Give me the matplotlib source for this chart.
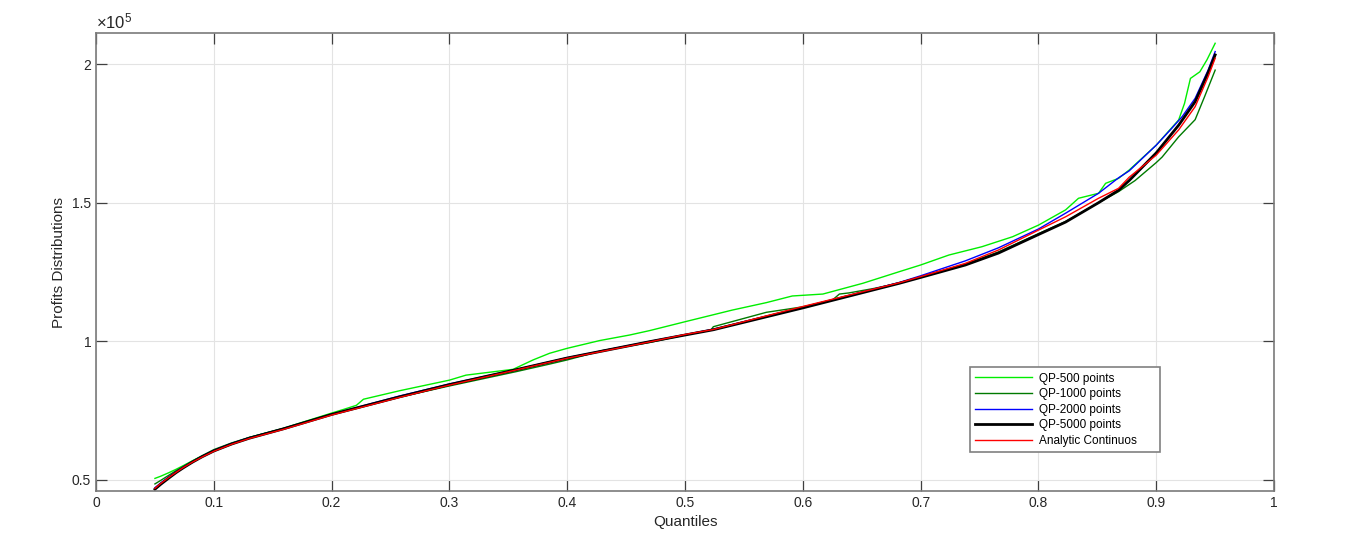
import numpy as np
import matplotlib.pyplot as plt
from matplotlib.ticker import FuncFormatter

plt.rcParams['font.family'] = ['Liberation Sans', 'DejaVu Sans']
plt.rcParams['mathtext.fontset'] = 'custom'
plt.rcParams['mathtext.rm'] = 'Liberation Sans'

# values, profits in units of 1e5
q_500 = [0.05, 0.055, 0.062, 0.068, 0.074, 0.082, 0.09, 0.1, 0.115, 0.13, 0.159, 0.2, 0.21,
         0.221, 0.227, 0.258, 0.3, 0.314, 0.354, 0.371, 0.385, 0.4, 0.4276, 0.453, 0.47,
         0.5, 0.54, 0.569, 0.591, 0.617, 0.651, 0.682, 0.7, 0.724, 0.752, 0.778, 0.8,
         0.823, 0.834, 0.851, 0.857, 0.868, 0.877, 0.9, 0.919, 0.924, 0.929, 0.937, 0.943,
         0.95]
v_500 = [0.504, 0.512, 0.525, 0.537, 0.55, 0.568, 0.585, 0.603, 0.627, 0.652, 0.685, 0.74,
         0.753, 0.768, 0.79, 0.821, 0.859, 0.877, 0.898, 0.932, 0.956, 0.974, 1.002, 1.022,
         1.038, 1.07, 1.112, 1.139, 1.163, 1.170, 1.209, 1.251, 1.275, 1.311, 1.341, 1.377,
         1.419, 1.474, 1.516, 1.534, 1.57, 1.588, 1.618, 1.708, 1.799, 1.859, 1.949, 1.973,
         2.016, 2.076]

q_1000 = [0.05, 0.055, 0.062, 0.068, 0.074, 0.082, 0.09, 0.1, 0.115, 0.13, 0.159, 0.2,
          0.258, 0.3, 0.357, 0.385, 0.4, 0.43, 0.47, 0.5, 0.522, 0.524, 0.569, 0.591, 0.6,
          0.625, 0.631, 0.639, 0.66, 0.682, 0.7, 0.738, 0.766, 0.8, 0.823, 0.851, 0.868,
          0.882, 0.9, 0.905, 0.919, 0.933, 0.941, 0.95]
v_1000 = [0.484, 0.497, 0.516, 0.532, 0.547, 0.567, 0.586, 0.608, 0.632, 0.652, 0.684,
          0.735, 0.798, 0.838, 0.89, 0.917, 0.932, 0.966, 0.995, 1.022, 1.04, 1.052, 1.104,
          1.118, 1.124, 1.148, 1.17, 1.174, 1.19, 1.21, 1.232, 1.278, 1.322, 1.388, 1.432,
          1.50, 1.54, 1.58, 1.645, 1.665, 1.738, 1.80, 1.883, 1.979]

q_2000 = [0.05, 0.055, 0.062, 0.068, 0.074, 0.082, 0.09, 0.1, 0.115, 0.13, 0.159, 0.2,
          0.258, 0.3, 0.357, 0.4, 0.47, 0.524, 0.6, 0.682, 0.7, 0.738, 0.766, 0.8, 0.823,
          0.851, 0.868, 0.877, 0.9, 0.913, 0.922, 0.933, 0.944, 0.95]
v_2000 = [0.47, 0.488, 0.51, 0.528, 0.545, 0.565, 0.584, 0.605, 0.63, 0.651, 0.684, 0.736,
          0.802, 0.845, 0.898, 0.94, 0.999, 1.043, 1.122, 1.212, 1.236, 1.29, 1.337, 1.405,
          1.462, 1.534, 1.59, 1.615, 1.708, 1.768, 1.811, 1.877, 1.979, 2.046]

q_5000 = [0.05, 0.055, 0.062, 0.068, 0.074, 0.082, 0.09, 0.1, 0.115, 0.13, 0.159, 0.2,
          0.258, 0.3, 0.357, 0.4, 0.47, 0.5, 0.524, 0.6, 0.682, 0.7, 0.738, 0.766, 0.8,
          0.823, 0.851, 0.868, 0.877, 0.9, 0.919, 0.933, 0.944, 0.95]
v_5000 = [0.465, 0.483, 0.506, 0.525, 0.542, 0.563, 0.582, 0.603, 0.628, 0.649, 0.683,
          0.735, 0.799, 0.843, 0.897, 0.939, 0.998, 1.022, 1.041, 1.12, 1.209, 1.230, 1.275,
          1.318, 1.385, 1.43, 1.50, 1.545, 1.58, 1.68, 1.78, 1.865, 1.97, 2.034]

q_an = [0.05, 0.055, 0.062, 0.068, 0.074, 0.082, 0.09, 0.1, 0.115, 0.13, 0.159, 0.2,
        0.258, 0.3, 0.357, 0.4, 0.47, 0.5, 0.524, 0.6, 0.682, 0.7, 0.738, 0.766, 0.8,
        0.823, 0.851, 0.868, 0.877, 0.9, 0.919, 0.933, 0.944, 0.95]
v_an = [0.468, 0.486, 0.508, 0.526, 0.543, 0.563, 0.581, 0.602, 0.627, 0.648, 0.681, 0.733,
        0.797, 0.841, 0.896, 0.938, 0.997, 1.024, 1.042, 1.125, 1.211, 1.233, 1.281, 1.329,
        1.401, 1.449, 1.516, 1.552, 1.592, 1.672, 1.763, 1.847, 1.955, 2.022]

SCALE = 1e5

fig = plt.figure(figsize=(13.66, 5.45), dpi=100)
ax = fig.add_axes([0.0703, 0.0991, 0.8624, 0.8403])

ax.plot(q_500, np.array(v_500) * SCALE, color='#00ee00', lw=1.0, label='QP-500 points')
ax.plot(q_1000, np.array(v_1000) * SCALE, color='#007a00', lw=1.0, label='QP-1000 points')
ax.plot(q_2000, np.array(v_2000) * SCALE, color='#0000ff', lw=1.0, label='QP-2000 points')
ax.plot(q_5000, np.array(v_5000) * SCALE, color='black', lw=2.0, label='QP-5000 points')
ax.plot(q_an, np.array(v_an) * SCALE, color='#ff0000', lw=1.0, label='Analytic Continuos')

ax.set_xlim(0, 1)
ax.set_ylim(0.4585 * SCALE, 2.113 * SCALE)
ax.set_xticks(np.arange(0, 1.01, 0.1))
ax.set_yticks([0.5 * SCALE, 1.0 * SCALE, 1.5 * SCALE, 2.0 * SCALE])
ax.xaxis.set_major_formatter(FuncFormatter(lambda v, p: '%g' % round(v, 2)))
ax.yaxis.set_major_formatter(FuncFormatter(lambda v, p: '%g' % (v / SCALE)))

ax.grid(True, color='#e3e3e3', lw=0.8)
ax.set_axisbelow(True)
ax.tick_params(direction='in', length=8, width=0.9, top=True, right=True,
               color='#404040', labelcolor='#262626', labelsize=10)
for s in ax.spines.values():
    s.set_color('#7a7a7a')
    s.set_linewidth(1.2)

ax.set_xlabel('Quantiles', fontsize=11, color='#262626')
ax.set_ylabel('Profits Distributions', fontsize=11, color='#262626')
ax.text(0.0, 1.004, r'$\mathregular{\times10^{5}}$', transform=ax.transAxes,
        ha='left', va='bottom', fontsize=12, color='#262626')

leg = ax.legend(loc='lower left', bbox_to_anchor=(0.742, 0.085, 0.161, 0.184),
                mode='expand', fontsize=8.5, fancybox=False, framealpha=1,
                edgecolor='#808080', handlelength=4.8, labelspacing=0.3, borderpad=0.45,
                handletextpad=0.6, borderaxespad=0)
leg.get_frame().set_linewidth(1.2)

fig.savefig('out.png', dpi=100)
